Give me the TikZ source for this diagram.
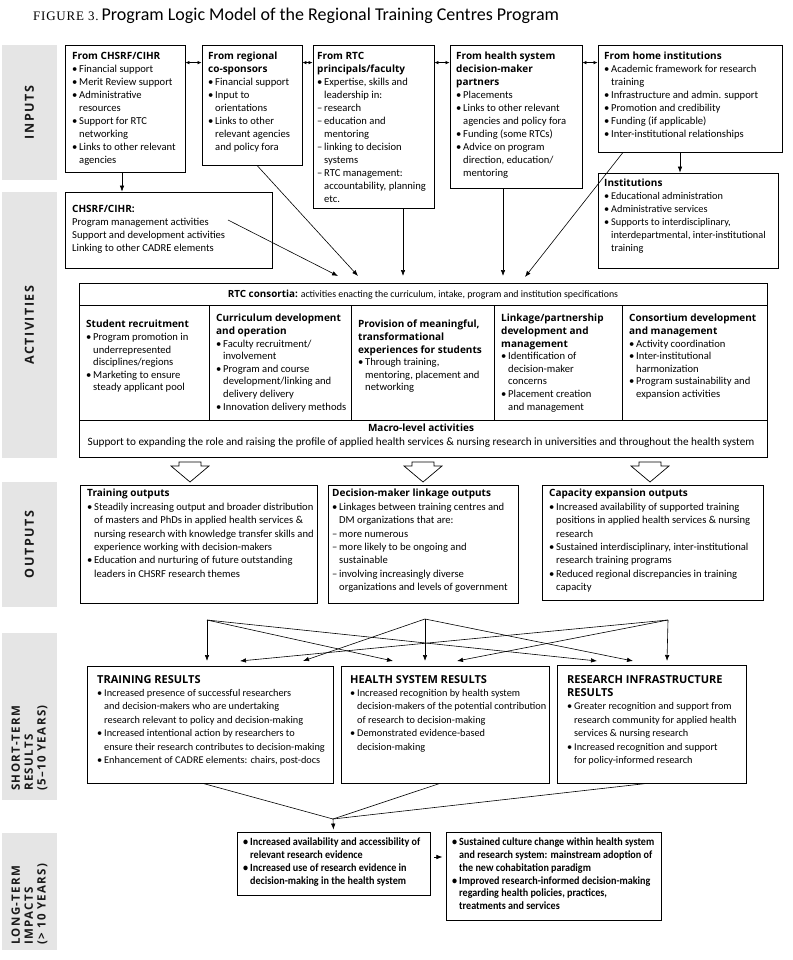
\documentclass[tikz,border=0pt]{standalone}
\usepackage{fontspec}
\setmainfont{Carlito}
\newfontfamily\hdfont{Open Sans}
\newfontfamily\lblfont[LetterSpace=12]{Open Sans}
\newfontfamily\ltfont[FakeStretch=0.92]{Carlito}
\newfontfamily\serifcaps[LetterSpace=6]{Liberation Serif}
\usetikzlibrary{fit,arrows.meta}
\newcommand\mybul{\makebox[7pt][l]{•}}
\newcommand\mycont{\hspace*{7pt}}
\newcommand\mydash{\makebox[7pt][l]{–}}
\newcommand\hdg[1]{{\hdfont\bfseries\fontsize{10}{13}\selectfont #1}}
\newcommand\hdgb[1]{{\hdfont\bfseries\fontsize{11}{13.4}\selectfont #1}}
\tikzset{
  box/.style={draw, line width=0.8pt, inner sep=0pt},
  txt/.style={anchor=north west, inner sep=0pt, align=left, font=\fontsize{10.6}{13}\selectfont},
  txtn/.style={txt, font=\fontsize{10.3}{13}\selectfont},
  coltxt/.style={txt, font=\fontsize{10.6}{12.6}\selectfont},
  outtxt/.style={txt, font=\fontsize{10.6}{13.4}\selectfont},
  sttxt/.style={txt, font=\fontsize{10.3}{13.4}\selectfont},
  lttxt/.style={txt, font=\ltfont\bfseries\fontsize{11}{12.7}\selectfont},
  lbl/.style={fill=black!10, draw=none, inner sep=0pt},
  lbltxt/.style={rotate=90, inner sep=0pt, text=black!90, font=\lblfont\bfseries\fontsize{12.5}{13}\selectfont},
  lbltxtm/.style={lbltxt, anchor=west, align=left, font=\lblfont\bfseries\fontsize{11.5}{12.8}\selectfont},
  arr/.style={line width=0.6pt, -{Latex[length=6pt,width=4.5pt]}},
  dbl/.style={line width=0.6pt, {Latex[length=4pt,width=3.5pt]}-{Latex[length=4pt,width=3.5pt]}},
  ln/.style={line width=0.6pt},
  blk/.style={line width=0.7pt, fill=white},
}
\begin{document}
\begin{tikzpicture}[x=1pt,y=-1pt]
\useasboundingbox (0,0) rectangle (792,960);

% title
\node[anchor=base west, inner sep=0pt] (title) at (33,21) {{\serifcaps\fontsize{13}{13}\selectfont FIGURE 3.} {\fontsize{18}{18}\selectfont Program Logic Model of the Regional Training Centres Program}};

% grey side labels
\node[lbl, fit={(2,45) (57,180)}] (gin) {};
\node[lbltxt] (tin) at (gin.center) {INPUTS};
\node[lbl, fit={(2,192) (57,458)}] (gact) {};
\node[lbltxt] (tact) at (gact.center) {ACTIVITIES};
\node[lbl, fit={(2,482) (57,607)}] (gout) {};
\node[lbltxt] (tout) at (gout.center) {OUTPUTS};
\node[lbl, fit={(2,633) (57,800)}] (gst) {};
\node[lbltxtm] (tst) at (29.5,791) {SHORT-TERM\\RESULTS\\(5–10 YEARS)};
\node[lbl, fit={(2,833) (57,950)}] (glt) {};
\node[lbltxtm] (tlt) at (29.5,945) {LONG-TERM\\IMPACTS\\(> 10 YEARS)};

% inputs
\node[box, fit={(65,45) (185,172)}] (b1) {};
\node[txt] (b1t) at (72,52) {\hdg{From CHSRF/CIHR}\\
\mybul Financial support\\
\mybul Merit Review support\\
\mybul Administrative\\
\mycont resources\\
\mybul Support for RTC\\
\mycont networking\\
\mybul Links to other relevant\\
\mycont agencies};

\node[box, fit={(202,45) (302,165)}] (b2) {};
\node[txt] (b2t) at (208,52) {\hdg{From regional}\\
\hdg{co-sponsors}\\
\mybul Financial support\\
\mybul Input to\\
\mycont orientations\\
\mybul Links to other\\
\mycont relevant agencies\\
\mycont and policy fora};

\node[box, fit={(313,45) (434,208)}] (b3) {};
\node[txt] (b3t) at (317,52) {\hdg{From RTC}\\
\hdg{principals/faculty}\\
\mybul Expertise, skills and\\
\mycont leadership in:\\
\mydash research\\
\mydash education and\\
\mycont mentoring\\
\mydash linking to decision\\
\mycont systems\\
\mydash RTC management:\\
\mycont accountability, planning\\
\mycont etc.};

\node[box, fit={(450,45) (582,188)}] (b4) {};
\node[txt] (b4t) at (456,52) {\hdg{From health system}\\
\hdg{decision-maker}\\
\hdg{partners}\\
\mybul Placements\\
\mybul Links to other relevant\\
\mycont agencies and policy fora\\
\mybul Funding (some RTCs)\\
\mybul Advice on program\\
\mycont direction, education/\\
\mycont mentoring};

\node[box, fit={(598,45) (782,152)}] (b5) {};
\node[txt] (b5t) at (604,52) {\hdg{From home institutions}\\
\mybul Academic framework for research\\
\mycont training\\
\mybul Infrastructure and admin. support\\
\mybul Promotion and credibility\\
\mybul Funding (if applicable)\\
\mybul Inter-institutional relationships};

\node[box, fit={(598,173) (778,268)}] (inst) {};
\node[txtn] (instt) at (604,179) {\hdg{Institutions}\\
\mybul Educational administration\\
\mybul Administrative services\\
\mybul Supports to interdisciplinary,\\
\mycont interdepartmental, inter-institutional\\
\mycont training};

\node[box, fit={(65,192) (272,268)}] (ch) {};
\node[txt] (cht) at (72,205) {\hdg{CHSRF/CIHR:}\\
Program management activities\\
Support and development activities\\
Linking to other CADRE elements};

% input connectors
\draw[dbl] ([yshift=-18pt]b1.north east) -- ([yshift=-18pt]b2.north west);
\draw[dbl] ([yshift=-18pt]b2.north east) -- ([yshift=-18pt]b3.north west);
\draw[dbl] ([yshift=-18pt]b3.north east) -- ([yshift=-18pt]b4.north west);
\draw[dbl] ([yshift=-18pt]b4.north east) -- ([yshift=-18pt]b5.north west);
\draw[arr] ([xshift=-3pt]b1.south) -- ([xshift=-3pt]b1.south |- ch.north);
\draw[arr] ([xshift=-10pt]b5.south) -- ([xshift=-10pt]b5.south |- inst.north);

% RTC consortia block
\node[box, fit={(79,283) (767,457)}] (rtc) {};
\node[inner sep=0pt, font=\fontsize{9.85}{11}\selectfont] (rtch) at (423,294.5) {{\hdfont\bfseries RTC consortia:} activities enacting the curriculum, intake, program and institution specifications};
\node[box, fit={(79,305) (209,420)}] (c1) {};
\node[box, fit={(209,305) (351,420)}] (c2) {};
\node[box, fit={(351,305) (494,420)}] (c3) {};
\node[box, fit={(494,305) (622,420)}] (c4) {};
\node[box, fit={(622,305) (767,420)}] (c5) {};
\node[box, fit={(79,420) (767,457)}] (mac) {};

\coordinate (chs) at (228,220);
\coordinate (t1) at (338,276);
\coordinate (t2) at (358,276);
\coordinate (t3) at (403,276);
\coordinate (t4) at (503,276);
\coordinate (t5) at (525,277);
\draw[arr] (chs) -- (t1);
\draw[arr] ([xshift=5pt]b2.south) -- (t2);
\draw[arr] ([xshift=29.5pt]b3.south) -- (t3);
\draw[arr] ([xshift=-13pt]b4.south) -- (t4);
\draw[arr] ([xshift=-67pt]b5.south) -- (t5);

\node[coltxt] (c1t) at (86,320) {\hdg{Student recruitment}\\
\mybul Program promotion in\\
\mycont underrepresented\\
\mycont disciplines/regions\\
\mybul Marketing to ensure\\
\mycont steady applicant pool};
\node[coltxt] (c2t) at (216,314) {\hdg{Curriculum development}\\
\hdg{and operation}\\
\mybul Faculty recruitment/\\
\mycont involvement\\
\mybul Program and course\\
\mycont development/linking and\\
\mycont delivery delivery\\
\mybul Innovation delivery methods};
\node[coltxt] (c3t) at (358,320) {\hdg{Provision of meaningful,}\\
\hdg{transformational}\\
\hdg{experiences for students}\\
\mybul Through training,\\
\mycont mentoring, placement and\\
\mycont networking};
\node[coltxt] (c4t) at (501,314) {\hdg{Linkage/partnership}\\
\hdg{development and}\\
\hdg{management}\\
\mybul Identification of\\
\mycont decision-maker\\
\mycont concerns\\
\mybul Placement creation\\
\mycont and management};
\node[coltxt] (c5t) at (629,314) {\hdg{Consortium development}\\
\hdg{and management}\\
\mybul Activity coordination\\
\mybul Inter-institutional\\
\mycont harmonization\\
\mybul Program sustainability and\\
\mycont expansion activities};

\node[inner sep=0pt, font=\hdfont\bfseries\fontsize{10}{12}\selectfont] (mact) at (421,428) {Macro-level activities};
\node[inner sep=0pt, font=\fontsize{11.2}{12}\selectfont] (macs) at (421,442.5) {Support to expanding the role and raising the profile of applied health services \& nursing research in universities and throughout the health system};

% hollow block arrows
\foreach \x in {190,423,650}{
  \draw[blk] ({\x-11},462) -- ({\x+11},462) -- ({\x+11},466) -- ({\x+19},466) -- (\x,482) -- ({\x-19},466) -- ({\x-11},466) -- cycle;
}

% outputs
\node[box, fit={(80,485) (317,603)}] (o1) {};
\node[outtxt] (o1t) at (87,489) {\hdg{Training outputs}\\
\mybul Steadily increasing output and broader distribution\\
\mycont of masters and PhDs in applied health services \&\\
\mycont nursing research with knowledge transfer skills and\\
\mycont experience working with decision-makers\\
\mybul Education and nurturing of future outstanding\\
\mycont leaders in CHSRF research themes};

\node[box, fit={(328,485) (518,603)}] (o2) {};
\node[outtxt] (o2t) at (332,489) {\hdg{Decision-maker linkage outputs}\\
\mybul Linkages between training centres and\\
\mycont DM organizations that are:\\
\mydash more numerous\\
\mydash more likely to be ongoing and\\
\mycont sustainable\\
\mydash involving increasingly diverse\\
\mycont organizations and levels of government};

\node[box, fit={(542,485) (763,600)}] (o3) {};
\node[outtxt] (o3t) at (549,489) {\hdg{Capacity expansion outputs}\\
\mybul Increased availability of supported training\\
\mycont positions in applied health services \& nursing\\
\mycont research\\
\mybul Sustained interdisciplinary, inter-institutional\\
\mycont research training programs\\
\mybul Reduced regional discrepancies in training\\
\mycont capacity};

% fan of arrows
\coordinate (fL) at (207,620);
\coordinate (fC) at (425,619);
\coordinate (fR) at (668,620);
\foreach \n/\x in {a/207,b/240,c/303,d/393,e/425,f/457,g/597,h/633,i/667}{
  \coordinate (tip\n) at (\x,661);
}
\draw[arr] (fL) -- (tipa);
\draw[arr] (fL) -- (tipd);
\draw[arr] (fL) -- (tipg);
\draw[arr] (fC) -- (tipc);
\draw[arr] (fC) -- (tipe);
\draw[arr] (fC) -- (tiph);
\draw[arr] (fR) -- (tipb);
\draw[arr] (fR) -- (tipf);
\draw[arr] (fR) -- (tipi);

% short-term results
\node[box, fit={(87,666) (333,783)}] (st1) {};
\node[sttxt] (st1t) at (97,675) {\hdgb{TRAINING RESULTS}\\
\mybul Increased presence of successful researchers\\
\mycont and decision-makers who are undertaking\\
\mycont research relevant to policy and decision-making\\
\mybul Increased intentional action by researchers to\\
\mycont ensure their research contributes to decision-making\\
\mybul Enhancement of CADRE elements: chairs, post-docs};

\node[box, fit={(341,666) (549,783)}] (st2) {};
\node[sttxt] (st2t) at (350,675) {\hdgb{HEALTH SYSTEM RESULTS}\\
\mybul Increased recognition by health system\\
\mycont decision-makers of the potential contribution\\
\mycont of research to decision-making\\
\mybul Demonstrated evidence-based\\
\mycont decision-making};

\node[box, fit={(557,665) (746,783)}] (st3) {};
\node[sttxt] (st3t) at (567,675) {\hdgb{RESEARCH INFRASTRUCTURE}\\
\hdgb{RESULTS}\\
\mybul Greater recognition and support from\\
\mycont research community for applied health\\
\mycont services \& nursing research\\
\mybul Increased recognition and support\\
\mycont for policy-informed research};

% converging lines
\coordinate (cv) at (333,819);
\draw[ln] ([xshift=-7pt]st1.south) -- (cv);
\draw[ln] ([xshift=-5pt]st2.south) -- (cv);
\draw[ln] ([xshift=-4.5pt]st3.south) -- (cv);

% long-term impacts
\node[box, fit={(237,832) (430,895)}] (lt1) {};
\node[lttxt] (lt1t) at (243,838) {\mybul Increased availability and accessibility of\\
\mycont relevant research evidence\\
\mybul Increased use of research evidence in\\
\mycont decision-making in the health system};
\node[box, fit={(446,832) (661,920)}] (lt2) {};
\node[lttxt] (lt2t) at (452,838) {\mybul Sustained culture change within health system\\
\mycont and research system: mainstream adoption of\\
\mycont the new cohabitation paradigm\\
\mybul Improved research-informed decision-making\\
\mycont regarding health policies, practices,\\
\mycont treatments and services};

\draw[arr] (cv) -- ([yshift=2pt]lt1.north);
\draw[arr] ([xshift=4pt,yshift=6.5pt]lt1.east) -- ([xshift=12pt,yshift=6.5pt]lt1.east);
\end{tikzpicture}
\end{document}
